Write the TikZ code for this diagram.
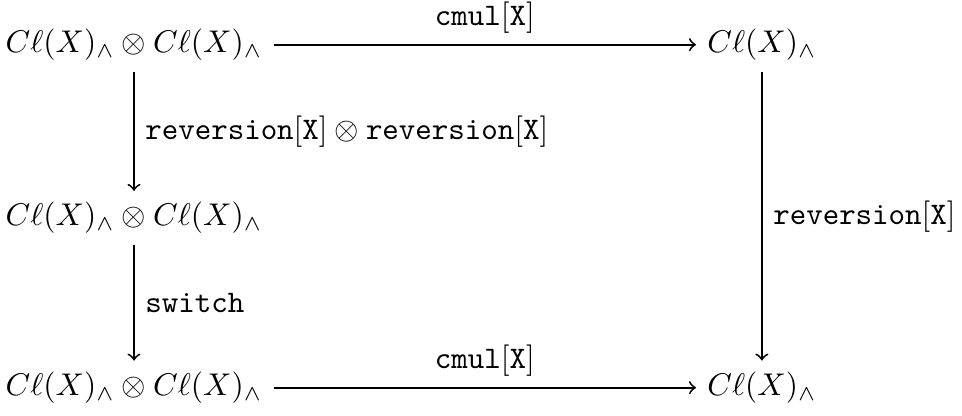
\documentclass[tikz,border=0pt]{standalone}
\usepackage{amsmath}
\usepackage{tikz}
\newcommand{\clx}{C\ell(X)_{\wedge}}
\newcommand{\tx}[1]{\texttt{#1}}

\begin{document}
\begin{tikzpicture}[>=to,semithick]
            \useasboundingbox (0,0) rectangle (10.77,4.65);
            \node (TL) at (1.50,4.15) {$\clx\otimes\clx$};
            \node (TR) at (8.53,4.15) {$\clx$};
            \node (ML) at (1.50,2.21) {$\clx\otimes\clx$};
            \node (BL) at (1.50,0.31) {$\clx\otimes\clx$};
            \node (BR) at (8.53,0.31) {$\clx$};
            \draw[->] (TL) -- node[above]{$\tx{cmul}[\tx{X}]$} (TR);
            \draw[->] (BL) -- node[above]{$\tx{cmul}[\tx{X}]$} (BR);
            \draw[->] (TL) -- node[right]{$\tx{reversion}[\tx{X}]\otimes\tx{reversion}[\tx{X}]$} (ML);
            \draw[->] (ML) -- node[right]{$\tx{switch}$} (BL);
            \draw[->] (TR) -- node[right]{$\tx{reversion}[\tx{X}]$} (BR);
        \end{tikzpicture}
\end{document}
